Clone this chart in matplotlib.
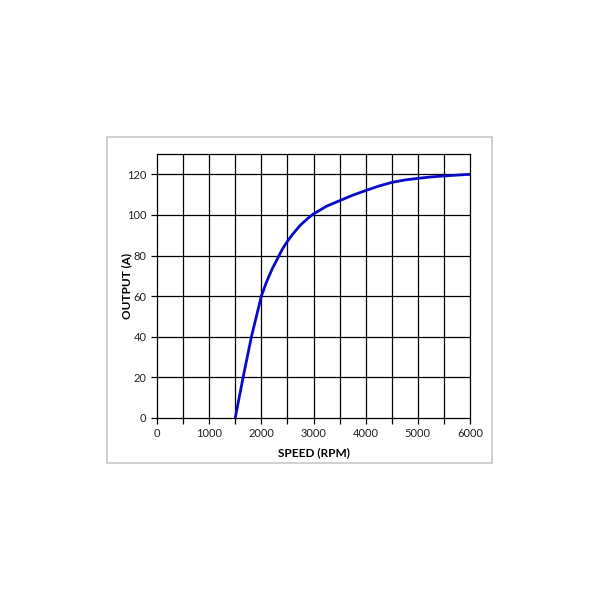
import matplotlib
matplotlib.use('Agg')
import matplotlib.pyplot as plt
from matplotlib.patches import Rectangle

# Data
speed = [1500, 1650, 1810, 2000, 2100, 2200, 2300, 2400, 2500, 2600,
         2750, 2900, 3000, 3100, 3250, 3500, 3750, 4000, 4250, 4500,
         4750, 5000, 5250, 5500, 5750, 6000]
output = [0, 20, 40, 60, 67, 73, 78, 83, 87, 90.5,
          95, 98.5, 100.5, 102, 104.3, 107, 109.7, 112, 114.2, 116,
          117.2, 118, 118.7, 119.2, 119.6, 120]
x_ticks = [0, 1000, 2000, 3000, 4000, 5000, 6000]
y_ticks = [0, 20, 40, 60, 80, 100, 120]

plt.rcParams['font.family'] = ['Lato', 'DejaVu Sans']

fig = plt.figure(figsize=(6, 6), dpi=100)
fig.patches.append(Rectangle((107 / 600, 1 - 463 / 600), 385 / 600, 326 / 600,
                             transform=fig.transFigure, fill=False,
                             edgecolor='#c8c8c8', linewidth=1.2))

ax = fig.add_axes([157 / 600, 1 - 418 / 600, 313 / 600, 264 / 600])
ax.set_xlim(0, 6000)
ax.set_ylim(0, 130)

# Grid every 500 rpm and every 20 A
for x in range(500, 6000, 500):
    ax.axvline(x, color='black', linewidth=0.9, zorder=1)
for y in range(20, 130, 20):
    ax.axhline(y, color='black', linewidth=0.9, zorder=1)

ax.plot(speed, output, color='#0a0acc', linewidth=2.0, zorder=3,
        solid_joinstyle='round')

ax.set_xticks(x_ticks)
ax.set_xticks(range(0, 6001, 500), minor=True)
ax.set_yticks(y_ticks)
ax.tick_params(axis='both', which='both', direction='out', length=4,
               width=0.9, labelsize=8, colors='black', labelcolor='#222222')
for s in ax.spines.values():
    s.set_linewidth(0.9)
    s.set_color('black')

ax.set_xlabel('SPEED (RPM)', fontsize=8.5, fontweight='bold')
ax.set_ylabel('OUTPUT (A)', fontsize=8.5, fontweight='bold')
ax.xaxis.set_label_coords(0.5, -0.11)
ax.yaxis.set_label_coords(-0.08, 0.5)

fig.savefig('out.png', dpi=100)
